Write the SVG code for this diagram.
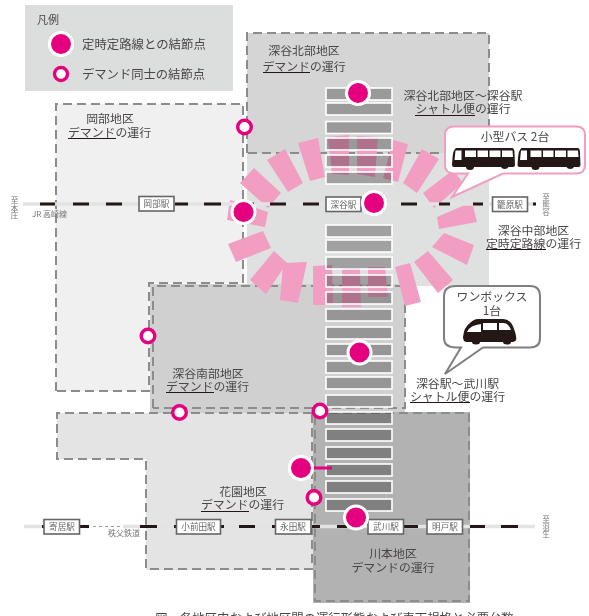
<svg xmlns="http://www.w3.org/2000/svg" width="589" height="616" viewBox="0 0 589 616">
<style>
text{font-family:"Noto Sans CJK JP","Noto Sans",sans-serif;font-size:11.9px;fill:#4a4646;text-anchor:middle}
.l{text-anchor:start}
.sm{font-size:8px;fill:#777}
.st{font-size:8.600px;fill:#666}
.v{font-size:7.500px;fill:#777;writing-mode:vertical-rl}
.d{stroke:#8c8c8c;stroke-width:2;stroke-dasharray:9 5;fill:none}
.u{stroke:#231815;stroke-width:1}
.sb{fill:#fff;stroke:#666;stroke-width:1.600}
.nf{fill:#e4007f;stroke:#fff;stroke-width:3}
.nh{fill:#fff;stroke:#e4007f;stroke-width:3.400}
.pk polygon{fill:#f19ec2}
.s1{fill:none;stroke:#fff;stroke-width:1.600}
.s2{fill:#b8b8b8;mix-blend-mode:multiply}
.band{stroke:#e3e3e3;stroke-width:3.500;fill:none}
.dash{stroke:#231815;stroke-width:3;fill:none}
</style>
<defs>
<symbol id="bus" viewBox="0 0 63 23" overflow="visible">
<path fill="#231815" d="M4 0H60Q62 0 62.400 3L63 17Q63 19 61 19H56.500A4 3 0 0 1 49 19H22A4 3 0 0 1 14 19H2Q0 19 0 17L.5 10Q1 2 4 0Z"/>
<path fill="#fff" d="M3.500 2.500H9.500V12H2.500ZM13 2.500H24V9H13ZM25.500 2.500H36V9H25.500ZM37.500 2.500H48.500V9H37.500ZM50 2.500H60.500L61 9H50Z"/>
</symbol>
</defs>
<g id="regions">
<path d="M56 104H243V283H149V391H56Z" fill="#f0f0f0"/>
<rect x="247" y="153" width="242" height="133" fill="#dfe0e0"/>
<rect x="247" y="33" width="242" height="120" fill="#d5d5d5"/>
<rect x="150" y="284" width="255" height="129" fill="#d0d0d0"/>
<path d="M57 413H315V570H146V459H57Z" fill="#e4e4e4"/>
<rect x="313" y="412" width="157" height="191" fill="#b2b2b2"/>
</g>
<g id="region-borders">
<path class="d" d="M56 391V104H243V283H149V391H56"/>
<path class="d" d="M247 153V33H489V153H247"/>
<path class="d" d="M153 408V286H405V408H153"/>
<path class="d" d="M312 413H57V459H146V569H312V413"/>
<rect class="d" x="315" y="413" width="154" height="188"/>
</g>
<g id="ring" class="pk">
<polygon points="240,183 254,168 281,193 268,208"/>
<polygon points="267,160 285,149 303,183 288,192"/>
<polygon points="227,220 230,200 268,212 265,227"/>
<polygon points="228,244 263,231 271,248 236,262"/>
<polygon points="250,280 274,251 287,263 266,294"/>
<polygon points="283,263 307,262 298,303 280,300"/>
<polygon points="298,143 318,138 325,177 310,181"/>
<polygon points="328,137 349,135 349,175 332,174"/>
<polygon points="357,136 378,137 375,177 357,174"/>
<polygon points="393,140 408,144 398,182 383,178"/>
<polygon points="422,149 439,159 417,193 403,183"/>
<polygon points="423,193 453,170 463,183 434,208"/>
<polygon points="437,217 472,202 477,222 439,229"/>
<polygon points="432,247 444,233 474,245 467,265"/>
<polygon points="414,262 428,251 453,280 438,293"/>
<polygon points="395,267 410,263 421,302 405,306"/>
<polygon points="368,267 385,267 388,297 368,297"/>
<polygon points="342,268 360,268 361,307 342,307"/>
<polygon points="313,266 332,265 333,305 313,305"/>
</g>
<g id="stripes">
<rect class="s2" x="326" y="88" width="66" height="12"/><rect class="s1" x="326" y="88" width="66" height="12"/>
<rect class="s2" x="326" y="103" width="66" height="12"/><rect class="s1" x="326" y="103" width="66" height="12"/>
<rect class="s2" x="326" y="121.500" width="66" height="12"/><rect class="s1" x="326" y="121.500" width="66" height="12"/>
<rect class="s2" x="326" y="138" width="66" height="12"/><rect class="s1" x="326" y="138" width="66" height="12"/>
<rect class="s2" x="326" y="155" width="66" height="12"/><rect class="s1" x="326" y="155" width="66" height="12"/>
<rect class="s2" x="326" y="172" width="66" height="12"/><rect class="s1" x="326" y="172" width="66" height="12"/>
<rect class="s2" x="326" y="225" width="66" height="12"/><rect class="s1" x="326" y="225" width="66" height="12"/>
<rect class="s2" x="326" y="240" width="66" height="12"/><rect class="s1" x="326" y="240" width="66" height="12"/>
<rect class="s2" x="326" y="257" width="66" height="12"/><rect class="s1" x="326" y="257" width="66" height="12"/>
<rect class="s2" x="326" y="275" width="66" height="12"/><rect class="s1" x="326" y="275" width="66" height="12"/>
<rect class="s2" x="326" y="292" width="66" height="12"/><rect class="s1" x="326" y="292" width="66" height="12"/>
<rect class="s2" x="326" y="309" width="66" height="12"/><rect class="s1" x="326" y="309" width="66" height="12"/>
<rect class="s2" x="326" y="327" width="66" height="12"/><rect class="s1" x="326" y="327" width="66" height="12"/>
<rect class="s2" x="326" y="344" width="66" height="12"/><rect class="s1" x="326" y="344" width="66" height="12"/>
<rect class="s2" x="326" y="361" width="66" height="12"/><rect class="s1" x="326" y="361" width="66" height="12"/>
<rect class="s2" x="326" y="377" width="66" height="12"/><rect class="s1" x="326" y="377" width="66" height="12"/>
<rect class="s2" x="326" y="395" width="66" height="12"/><rect class="s1" x="326" y="395" width="66" height="12"/>
<rect class="s2" x="326" y="412" width="66" height="12"/><rect class="s1" x="326" y="412" width="66" height="12"/>
<rect class="s2" x="326" y="429" width="66" height="12"/><rect class="s1" x="326" y="429" width="66" height="12"/>
<rect class="s2" x="326" y="447" width="66" height="12"/><rect class="s1" x="326" y="447" width="66" height="12"/>
<rect class="s2" x="326" y="464" width="66" height="12"/><rect class="s1" x="326" y="464" width="66" height="12"/>
<rect class="s2" x="326" y="481" width="66" height="12"/><rect class="s1" x="326" y="481" width="66" height="12"/>
<rect class="s2" x="326" y="499" width="66" height="12"/><rect class="s1" x="326" y="499" width="66" height="12"/>
</g>
<g id="connectors">
<path class="band" d="M23 204H535"/>
<path class="dash" d="M40 204H55M73 204H89M106 204H122M175 204H188M204 204H221M237 204H254M270 204H286M303 204H319M336 204H352M401 204H417M439 204H450M473 204H483M533 204H536"/>
<path class="band" d="M24 526.500H89M123 526.500H535"/>
<path class="dash" d="M42 526.500H45M80 526.500H89M140 526.500H157M174 526.500H177M221 526.500H224M239 526.500H255M272 526.500H275M312 526.500H320M337 526.500H347M404 526.500H418M470 526.500H485M501 526.500H518"/>
<path d="M93 526.500H123" stroke="#999" stroke-width="1.200" stroke-dasharray="3 3" fill="none"/>
<path d="M301 468H332" stroke="#e4007f" stroke-width="3" fill="none"/>
</g>
<g id="legend">
<rect x="25" y="5" width="208" height="86" fill="#dcdddd"/>
<text class="l" x="37" y="24" style="font-size:11px">凡例</text>
<circle class="nf" cx="61" cy="44" r="11.500"/>
<text class="l" x="82" y="49" style="font-size:12.400px">定時定路線との結節点</text>
<circle class="nh" cx="61" cy="74" r="6.500"/>
<text class="l" x="82" y="79" style="font-size:12.300px">デマンド同士の結節点</text>
</g>
<g id="stations">
<g id="st-okabe"><rect class="sb" x="139" y="196.500" width="35" height="14.500"/><text class="st" x="156.500" y="207">岡部駅</text></g>
<g id="st-fukaya"><rect class="sb" x="326" y="197" width="35" height="14.500"/><text class="st" x="343.500" y="207.500">深谷駅</text></g>
<g id="st-kagohara"><rect class="sb" x="492.500" y="197" width="35" height="14.500"/><text class="st" x="510" y="207.500">籠原駅</text></g>
<g id="st-yorii"><rect class="sb" x="44" y="519.500" width="35.500" height="14.500"/><text class="st" x="62" y="530">寄居駅</text></g>
<g id="st-obusuma"><rect class="sb" x="176.500" y="519.500" width="44" height="14.500"/><text class="st" x="198.500" y="530">小前田駅</text></g>
<g id="st-nagata"><rect class="sb" x="275.500" y="519.500" width="35.500" height="14.500"/><text class="st" x="293" y="530">永田駅</text></g>
<g id="st-takekawa"><rect class="sb" x="368" y="519.500" width="35.500" height="14.500"/><text class="st" x="386" y="530">武川駅</text></g>
<g id="st-akito"><rect class="sb" x="427" y="519.500" width="35.500" height="14.500"/><text class="st" x="445" y="530">明戸駅</text></g>
</g>
<g id="line-labels">
<text class="sm" x="49.500" y="217">JR 高崎線</text>
<text class="sm" x="124" y="536">秩父鉄道</text>
<text class="v" x="14.500" y="208">至本庄</text>
<text class="v" x="546" y="205">至熊谷</text>
<text class="v" x="546" y="527">至羽生</text>
</g>
<g id="callout-bus">
<path d="M454 126.500H576Q585 126.500 585 135V165Q585 173.500 576 173.500H503L452 197L468 173.500H454Q445 173.500 445 165V135Q445 126.500 454 126.500Z" fill="#fff" stroke="#f19ec2" stroke-width="2"/>
<text x="515" y="141">小型バス 2台</text>
<use href="#bus" x="452" y="148" width="63" height="23"/>
<use href="#bus" x="517.500" y="148" width="63" height="23"/>
</g>
<g id="callout-van">
<path d="M456 286H530Q540 286 540 296V338Q540 347.500 530 347.500H483L445 374L461 347.500H456Q444 347.500 444 338V296Q444 286 456 286Z" fill="#fff" stroke="#7f7f7f" stroke-width="2"/>
<text x="492" y="301">ワンボックス</text>
<text x="492" y="315">1台</text>
<path fill="#231815" d="M478 319H503Q511 319 514 329Q517 337 516 340Q515 342 511 342A4 2.500 0 0 1 503 342H480A4 2.500 0 0 1 472 342H467Q463 342 463 337Q464 327 470 323Q474 319 478 319Z"/>
<path fill="#fff" d="M483 323H497V330H483ZM499 323H504Q509 324 511 330H499ZM481 324V332H467Q470 325 481 324Z"/>
</g>
<g id="labels">
<text x="110" y="123">岡部地区</text><text x="109.500" y="137">デマンドの運行</text><path class="u" d="M68 138.500H116"/>
<text x="304" y="55">深谷北部地区</text><text x="304" y="71">デマンドの運行</text><path class="u" d="M263 72.500H310"/>
<text x="463" y="99.500">深谷北部地区～深谷駅</text><text x="463" y="113">シャトル便の運行</text><path class="u" d="M415 115.500H475"/>
<text x="533.500" y="234.500">深谷中部地区</text><text x="533.500" y="247.500">定時定路線の運行</text><path class="u" d="M486 249.500H546"/>
<text x="208" y="377.500">深谷南部地区</text><text x="207.500" y="390.500">デマンドの運行</text><path class="u" d="M166 392.500H214"/>
<text x="243" y="495.500">花園地区</text><text x="242.500" y="509">デマンドの運行</text><path class="u" d="M201 511.500H249"/>
<text x="457.500" y="387.500">深谷駅〜武川駅</text><text x="457.500" y="400.500">シャトル便の運行</text><path class="u" d="M410 402.500H470"/>
<text x="393" y="557.500">川本地区</text><text x="393" y="571.500">デマンドの運行</text>
<text x="334.500" y="623" style="font-size:12.360px">図　各地区内および地区間の運行形態および車両規格と必要台数</text>
</g>
<g id="nodes">
<circle id="n1" class="nf" cx="358" cy="93" r="11.500"/>
<circle id="n2" class="nf" cx="374" cy="203" r="11.500"/>
<circle id="n3" class="nf" cx="243.500" cy="212" r="11.500"/>
<circle id="n4" class="nf" cx="359.500" cy="352.500" r="11.500"/>
<circle id="n5" class="nf" cx="301" cy="468" r="11.500"/>
<circle id="n6" class="nf" cx="356" cy="517.500" r="11.500"/>
<circle id="h1" class="nh" cx="244.500" cy="127" r="6.800"/>
<circle id="h2" class="nh" cx="148" cy="336" r="6.800"/>
<circle id="h3" class="nh" cx="179.500" cy="412.500" r="6.800"/>
<circle id="h4" class="nh" cx="320" cy="411" r="6.800"/>
<circle id="h5" class="nh" cx="314" cy="497.500" r="6.800"/>
</g>
</svg>
